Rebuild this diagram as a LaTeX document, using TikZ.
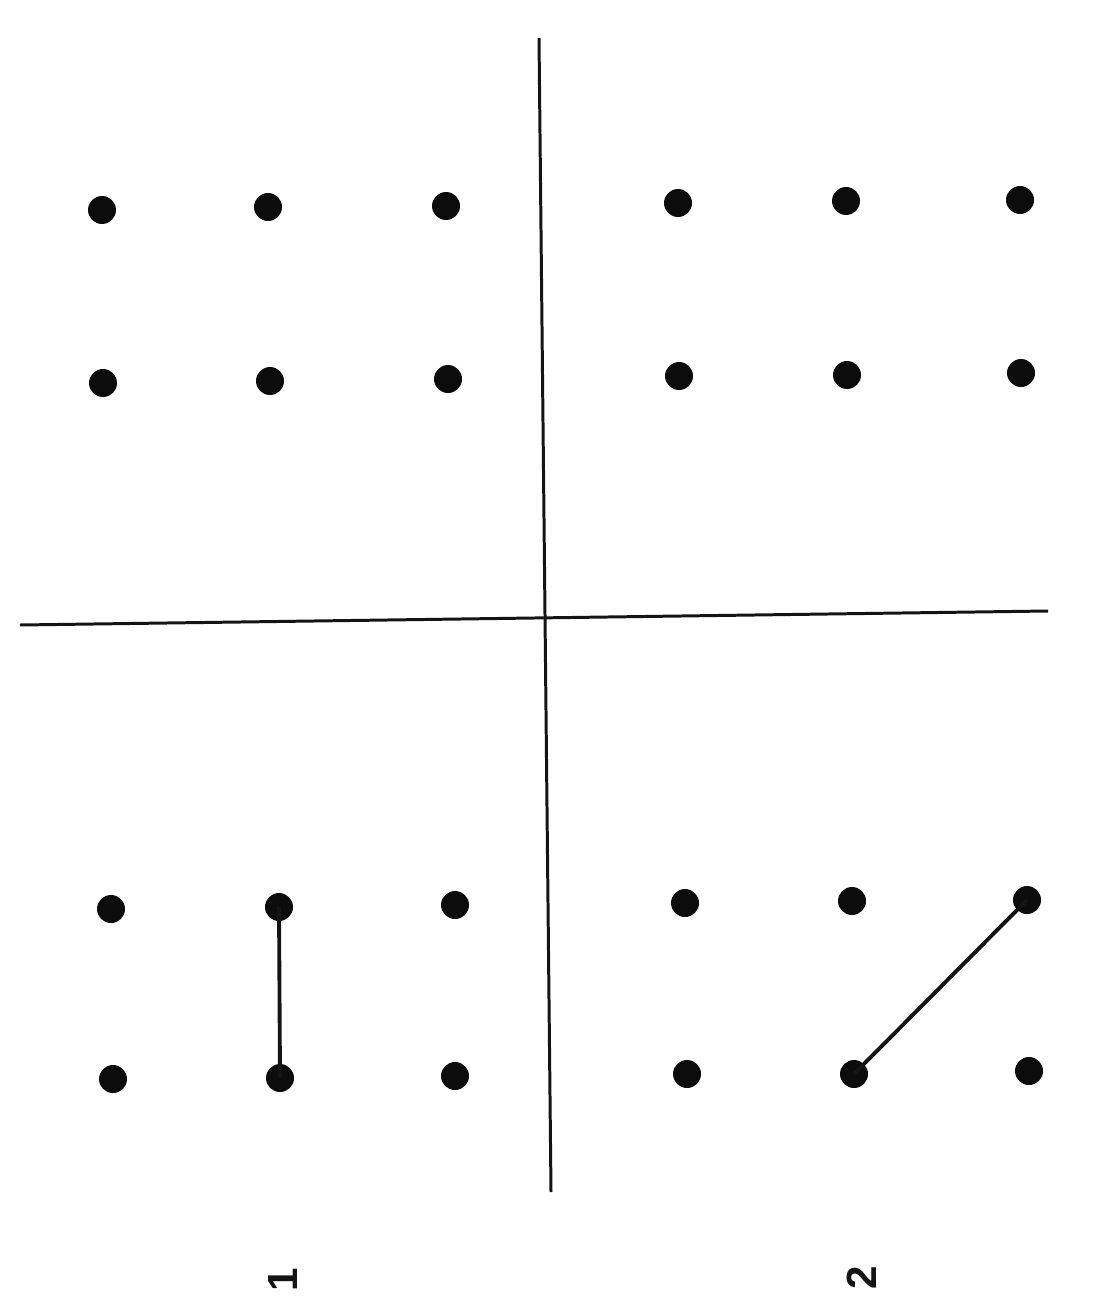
\documentclass[tikz,border=0pt]{standalone}
\usepackage{fontspec}
\setsansfont{Liberation Sans}
\usepackage{xcolor}
\definecolor{inkDot}{RGB}{12,12,12}
\definecolor{inkLine}{RGB}{20,20,20}
\begin{document}
\begin{tikzpicture}[x=0.02cm, y=-0.02cm,
    dot/.style={circle, fill=inkDot, inner sep=0pt, minimum size=0.56cm},
    axis/.style={draw=inkLine, line width=1.7pt},
    link/.style={draw=inkLine, line width=2.2pt},
    tag/.style={font=\fontsize{24}{28}\selectfont\sffamily\bfseries, rotate=90, text=inkLine}]
    \useasboundingbox[fill=white] (0,0) rectangle (1107,1308);
    % cross
    \coordinate (vTop) at (539,38);
    \coordinate (vBot) at (551,1192);
    \coordinate (hLeft) at (20,625);
    \coordinate (hRight) at (1048,611);
    \draw[axis] (vTop) -- (vBot);
    \draw[axis] (hLeft) -- (hRight);
    % upper left
    \node[dot] (ulA) at (102,210) {};
    \node[dot] (ulB) at (268,207) {};
    \node[dot] (ulC) at (446,206) {};
    \node[dot] (ulD) at (103,383) {};
    \node[dot] (ulE) at (270,381) {};
    \node[dot] (ulF) at (448,379) {};
    % upper right
    \node[dot] (urA) at (678,203) {};
    \node[dot] (urB) at (846,201) {};
    \node[dot] (urC) at (1020,200) {};
    \node[dot] (urD) at (679,376) {};
    \node[dot] (urE) at (847,375) {};
    \node[dot] (urF) at (1021,373) {};
    % lower left
    \node[dot] (llA) at (111,909) {};
    \node[dot] (llB) at (279,907) {};
    \node[dot] (llC) at (455,905) {};
    \node[dot] (llD) at (113,1079) {};
    \node[dot] (llE) at (280,1078) {};
    \node[dot] (llF) at (455,1076) {};
    % lower right
    \node[dot] (lrA) at (685,903) {};
    \node[dot] (lrB) at (852,901) {};
    \node[dot] (lrC) at (1027,900) {};
    \node[dot] (lrD) at (687,1074) {};
    \node[dot] (lrE) at (854,1074) {};
    \node[dot] (lrF) at (1029,1071) {};
    % joined pairs
    \draw[link] (llB.center) -- (llE.center);
    \draw[link] (lrE.center) -- (lrC.center);
    % labels
    \node[tag] (tagOne) at (283,1280) {1};
    \node[tag] (tagTwo) at (862,1278) {2};
\end{tikzpicture}
\end{document}
